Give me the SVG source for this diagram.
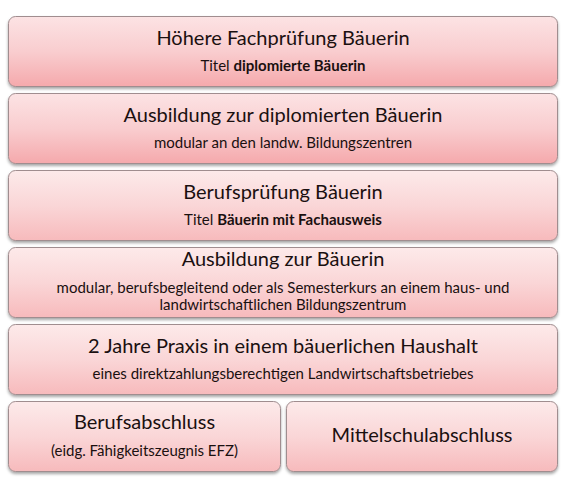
<svg xmlns="http://www.w3.org/2000/svg" width="570" height="490" viewBox="0 0 570 490">
<defs>
<linearGradient id="gA" x1="0" y1="0" x2="0" y2="1">
<stop offset="0" stop-color="#fce3e4"/><stop offset="0.5" stop-color="#f9cdcf"/><stop offset="1" stop-color="#f5a9ac"/>
</linearGradient>
<linearGradient id="gB" x1="0" y1="0" x2="0" y2="1">
<stop offset="0" stop-color="#fdeaea"/><stop offset="0.5" stop-color="#fad6d7"/><stop offset="1" stop-color="#f7babc"/>
</linearGradient>
<filter id="sh" x="-5%" y="-10%" width="110%" height="130%">
<feDropShadow dx="0" dy="2" stdDeviation="1.5" flood-color="#000" flood-opacity="0.35"/>
</filter>
</defs>
<style>
.box{stroke:#a08d8f;stroke-width:1;filter:url(#sh)}
.t{font-family:Lato,"Open Sans","Liberation Sans",sans-serif;fill:#1a1010;text-anchor:middle}
.h{font-size:20px}
.s{font-size:15px}
.b{font-weight:bold}
</style>
<rect width="570" height="490" fill="#ffffff"/>
<g id="connectors"></g>
<g id="n1">
<rect class="box" x="8.5" y="16.5" width="549" height="70" rx="7" fill="url(#gA)"/>
<text class="t h" x="283" y="45">Höhere Fachprüfung Bäuerin</text>
<text class="t s" x="283" y="71">Titel <tspan class="b">diplomierte Bäuerin</tspan></text>
</g>
<g id="n2">
<rect class="box" x="8.5" y="93.5" width="549" height="70" rx="7" fill="url(#gA)"/>
<text class="t h" x="283" y="122">Ausbildung zur diplomierten Bäuerin</text>
<text class="t s" x="283" y="148">modular an den landw. Bildungszentren</text>
</g>
<g id="n3">
<rect class="box" x="8.5" y="170.5" width="549" height="70" rx="7" fill="url(#gB)"/>
<text class="t h" x="283" y="199">Berufsprüfung Bäuerin</text>
<text class="t s" x="283" y="225">Titel <tspan class="b">Bäuerin mit Fachausweis</tspan></text>
</g>
<g id="n4">
<rect class="box" x="8.5" y="247.5" width="549" height="70" rx="7" fill="url(#gB)"/>
<text class="t h" x="283" y="266">Ausbildung zur Bäuerin</text>
<text class="t s" x="283" y="293">modular, berufsbegleitend oder als Semesterkurs an einem haus- und</text>
<text class="t s" x="283" y="310">landwirtschaftlichen Bildungszentrum</text>
</g>
<g id="n5">
<rect class="box" x="8.5" y="324.5" width="549" height="70" rx="7" fill="url(#gB)"/>
<text class="t h" x="283" y="353">2 Jahre Praxis in einem bäuerlichen Haushalt</text>
<text class="t s" x="283" y="379">eines direktzahlungsberechtigen Landwirtschaftsbetriebes</text>
</g>
<g id="n6">
<rect class="box" x="8.5" y="401.5" width="272" height="70" rx="7" fill="url(#gB)"/>
<text class="t h" x="144.5" y="429">Berufsabschluss</text>
<text class="t s" x="144.5" y="456">(eidg. Fähigkeitszeugnis EFZ)</text>
</g>
<g id="n7">
<rect class="box" x="286.5" y="401.5" width="271" height="70" rx="7" fill="url(#gB)"/>
<text class="t h" x="422" y="442">Mittelschulabschluss</text>
</g>
</svg>
